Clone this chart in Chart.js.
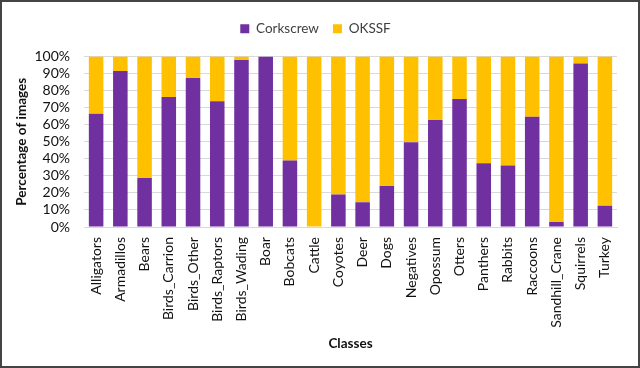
<!DOCTYPE html>
<html>
<head>
<meta charset="utf-8">
<script src="https://cdn.jsdelivr.net/npm/chart.js@4"></script>
<style>
    body { margin: 0; background: #fff; }
    #frame { width: 640px; height: 368px; box-sizing: border-box; border: 2px solid #444; position: relative; }
    #chart { display: block; }
</style>
</head>
<body>
<div id="frame"><canvas id="chart" width="636" height="364"></canvas></div>
<script>
const classes = ["Alligators", "Armadillos", "Bears", "Birds_Carrion", "Birds_Other", "Birds_Raptors",
    "Birds_Wading", "Boar", "Bobcats", "Cattle", "Coyotes", "Deer", "Dogs", "Negatives", "Opossum",
    "Otters", "Panthers", "Rabbits", "Raccoons", "Sandhill_Crane", "Squirrels", "Turkey"];
const corkscrew = [66.5, 91.5, 28.7, 76.3, 87.4, 73.7, 98, 100, 39, 0, 19.1, 14.6, 24, 49.7, 62.8,
    75.1, 37.4, 36.1, 64.6, 2.9, 95.9, 12.5];
const okssf = [33.5, 8.5, 71.3, 23.7, 12.6, 26.3, 2, 0, 61, 100, 80.9, 85.4, 76, 50.3, 37.2,
    24.9, 62.6, 63.9, 35.4, 97.1, 4.1, 87.5];
const y_ticks = [0, 10, 20, 30, 40, 50, 60, 70, 80, 90, 100];

const font_family = "Lato, 'Open Sans', sans-serif";

// etwas mehr platz unter der legende
const legend_gap = {
    id: 'legend_gap',
    beforeInit(chart) {
        const fit = chart.legend.fit;
        chart.legend.fit = function () {
            fit.bind(chart.legend)();
            this.height += 11;
        };
    }
};

let ctx = document.getElementById("chart");
let chart = new Chart(ctx, {
    type: 'bar',
    data: {
        labels: classes,
        datasets: [{
            label: 'Corkscrew',
            data: corkscrew,
            backgroundColor: '#7030A0',
            categoryPercentage: 1,
            barPercentage: 0.6
        }, {
            label: 'OKSSF',
            data: okssf,
            backgroundColor: '#FFC000',
            categoryPercentage: 1,
            barPercentage: 0.6
        }]
    },
    plugins: [legend_gap],
    options: {
        responsive: false,
        animation: false,
        layout: {
            padding: {left: 12, right: 21, top: 6, bottom: 14}
        },
        plugins: {
            legend: {
                position: 'top',
                labels: {
                    boxWidth: 9,
                    boxHeight: 9,
                    padding: 14,
                    color: '#404040',
                    font: {family: font_family, size: 13.5}
                }
            },
            tooltip: {enabled: false}
        },
        scales: {
            x: {
                stacked: true,
                grid: {display: false},
                border: {color: '#d9d9d9'},
                ticks: {
                    color: '#111',
                    maxRotation: 90,
                    minRotation: 90,
                    autoSkip: false,
                    padding: 2,
                    font: {family: font_family, size: 14}
                },
                title: {
                    display: true,
                    text: 'Classes',
                    color: '#111',
                    padding: {top: 6, bottom: 0},
                    font: {family: font_family, size: 13.5, weight: 'bold'}
                }
            },
            y: {
                stacked: true,
                min: 0,
                max: 100,
                afterBuildTicks: (axis) => {
                    axis.ticks = y_ticks.map(v => ({value: v}));
                },
                afterFit: (axis) => {
                    axis.width = 70;
                },
                grid: {color: '#d9d9d9', drawTicks: false},
                border: {display: false},
                ticks: {
                    color: '#111',
                    padding: 14,
                    autoSkip: false,
                    callback: (v) => v + '%',
                    font: {family: font_family, size: 14}
                },
                title: {
                    display: true,
                    text: 'Percentage of images',
                    color: '#111',
                    padding: {top: 0, bottom: 1},
                    font: {family: font_family, size: 13.5, weight: 'bold'}
                }
            }
        }
    }
});
</script>
</body>
</html>
